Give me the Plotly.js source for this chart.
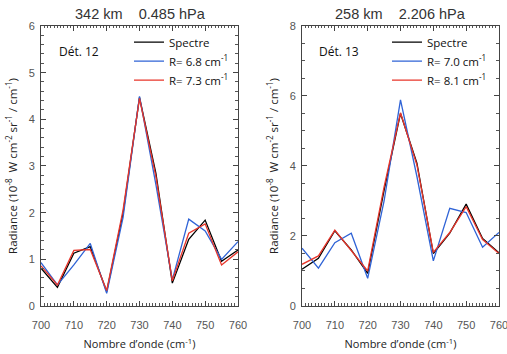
<!DOCTYPE html>
<html><head><meta charset="utf-8">
<script src="https://cdn.plot.ly/plotly-3.0.1.min.js"></script>
<style>html,body{margin:0;padding:0;background:#fff}#c{width:507px;height:354px}</style>
</head><body><div id="c"></div>
<script>
const wavenumber = [700,705,710,715,720,725,730,735,740,745,750,755,760];
// Détecteur 12
const spectre12 = [0.81,0.40,1.13,1.27,0.31,1.99,4.47,2.84,0.49,1.43,1.84,0.96,1.20];
const r68 = [0.93,0.45,0.88,1.34,0.27,1.90,4.49,2.60,0.56,1.86,1.61,1.00,1.38];
const r73 = [0.86,0.45,1.19,1.21,0.33,2.06,4.45,2.77,0.54,1.56,1.76,0.88,1.16];
// Détecteur 13
const spectre13 = [1.05,1.36,2.15,1.60,0.93,3.30,5.50,4.08,1.50,2.08,2.91,1.93,1.52];
const r70 = [1.65,1.08,1.81,2.08,0.79,3.00,5.89,3.70,1.29,2.79,2.67,1.68,2.10];
const r81 = [1.19,1.43,2.17,1.60,1.00,3.40,5.52,4.03,1.53,2.10,2.84,1.90,1.50];
const xTicks = [700,710,720,730,740,750,760];

const sansM = "Open Sans, Noto Sans, sans-serif";
const sansH = "Liberation Sans, Arial, sans-serif";
const gap = '\u00A0\u00A0\u00A0\u00A0';
function tr(y, name, color, xa, ya, lg){
  return {x: wavenumber, y: y, name: name, type:'scatter', mode:'lines',
    line:{color:color, width:1.3}, xaxis:xa, yaxis:ya, legend:lg};
}
const data = [
  tr(spectre12,'Spectre','#000000','x','y','legend'),
  tr(r68,'R= 6.8 cm<sup>-1</sup>','#2f63d6','x','y','legend'),
  tr(r73,'R= 7.3 cm<sup>-1</sup>','#e8352a','x','y','legend'),
  tr(spectre13,'Spectre','#000000','x2','y2','legend2'),
  tr(r70,'R= 7.0 cm<sup>-1</sup>','#2f63d6','x2','y2','legend2'),
  tr(r81,'R= 8.1 cm<sup>-1</sup>','#e8352a','x2','y2','legend2')
];
const ytitle = 'Radiance (10<sup>-8</sup>  W cm<sup>-2</sup> sr<sup>-1</sup> / cm<sup>-1</sup>)';
function xax(dom, anchor){
  return {domain:dom, anchor:anchor, range:[700,760], tickvals:xTicks, ticks:'inside', ticklen:5,
    tickcolor:'#444', showline:true, linecolor:'#444', linewidth:1, mirror:'ticks', showgrid:false, zeroline:false,
    minor:{dtick:1, ticks:'inside', ticklen:2.5, tickcolor:'#555', showgrid:false},
    ticklabelstandoff:9, ticklabeloverflow:'allow',
    tickfont:{family:sansH, size:11, color:'#555'},
    title:{text:'Nombre d\u2019onde (cm<sup>-1</sup>)', font:{family:sansM, size:11, color:'#222'}, standoff:10}};
}
function yax(dom, anchor, range, dtick, mdt){
  return {domain:dom, anchor:anchor, range:range, dtick:dtick, ticks:'inside', ticklen:5,
    tickcolor:'#444', showline:true, linecolor:'#444', linewidth:1, mirror:'ticks', showgrid:false, zeroline:false,
    minor:{dtick:mdt, ticks:'inside', ticklen:2.5, tickcolor:'#555', showgrid:false},
    ticklabelstandoff:3,
    tickfont:{family:sansH, size:11, color:'#555'},
    title:{text:ytitle, font:{family:sansM, size:11.5, color:'#222'}, standoff:8}};
}
const layout = {
  width:507, height:354, margin:{l:0,r:0,t:0,b:0}, paper_bgcolor:'#fff', plot_bgcolor:'#fff',
  xaxis: xax([0.0809,0.4694],'y'),
  yaxis: yax([0.1356,0.9266],'x',[0,6],1,0.2),
  xaxis2: xax([0.5957,0.9842],'y2'),
  yaxis2: yax([0.1356,0.9266],'x2',[0,8],2,0.5),
  legend:{x:129/507, y:0.922, xanchor:'left', yanchor:'top', bgcolor:'rgba(0,0,0,0)', itemwidth:30,
    tracegroupgap:0, font:{family:sansM, size:11.5, color:'#111'}},
  legend2:{x:387/507, y:0.922, xanchor:'left', yanchor:'top', bgcolor:'rgba(0,0,0,0)', itemwidth:30,
    tracegroupgap:0, font:{family:sansM, size:11.5, color:'#111'}},
  annotations:[
    {text:'342 km' + gap + '0.485 hPa', xref:'paper', yref:'paper', x:140/507, y:1-14/354, xanchor:'center', yanchor:'middle', showarrow:false,
      font:{family:sansH, size:14.5, color:'#333'}},
    {text:'258 km' + gap + '2.206 hPa', xref:'paper', yref:'paper', x:400/507, y:1-14/354, xanchor:'center', yanchor:'middle', showarrow:false,
      font:{family:sansH, size:14.5, color:'#333'}},
    {text:'Dét. 12', xref:'paper', yref:'paper', x:79/507, y:1-52/354, xanchor:'center', yanchor:'middle', showarrow:false,
      font:{family:sansM, size:12, color:'#111'}},
    {text:'Dét. 13', xref:'paper', yref:'paper', x:339/507, y:1-52/354, xanchor:'center', yanchor:'middle', showarrow:false,
      font:{family:sansM, size:12, color:'#111'}}
  ]
};
Plotly.newPlot('c', data, layout, {displayModeBar:false, staticPlot:true});
</script></body></html>
